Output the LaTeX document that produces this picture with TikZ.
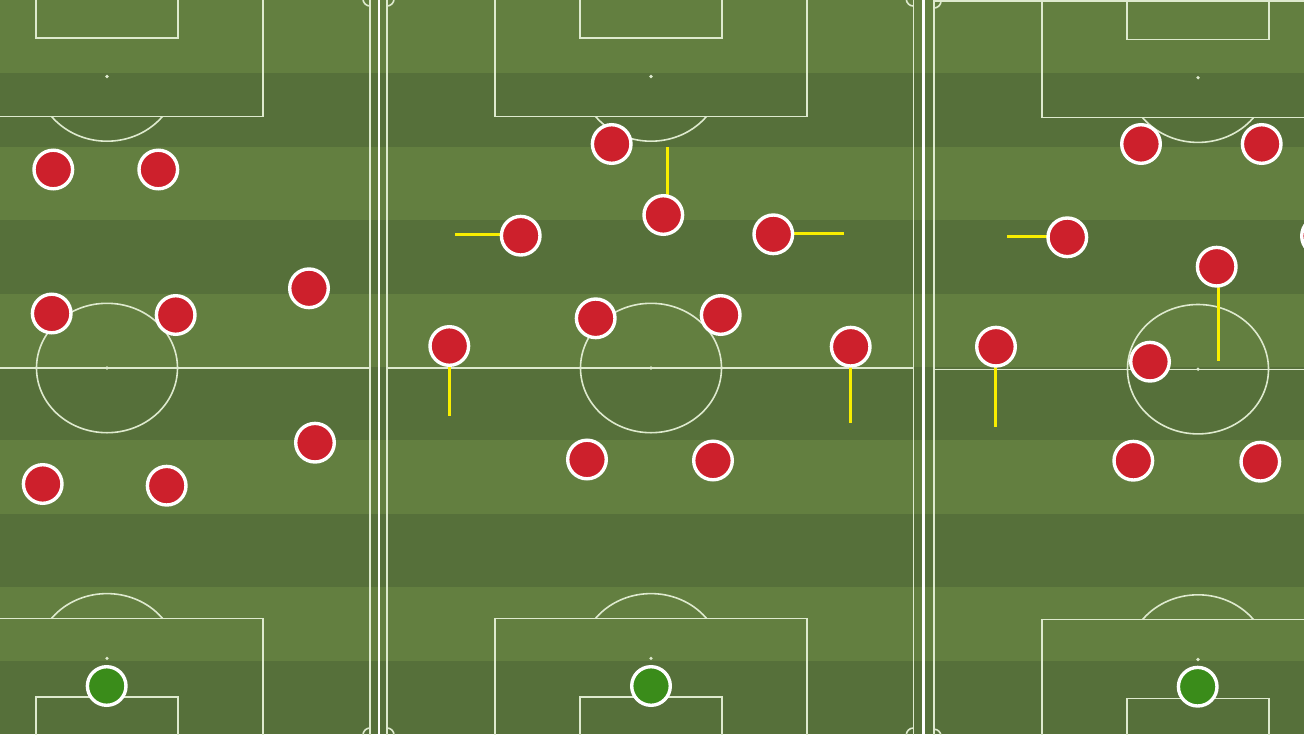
\documentclass[tikz,border=0pt]{standalone}
\usetikzlibrary{shadows}
\definecolor{lightg}{RGB}{99,127,64}
\definecolor{darkg}{RGB}{86,112,58}
\definecolor{pred}{RGB}{205,32,44}
\definecolor{pgk}{RGB}{58,140,26}
\definecolor{runy}{RGB}{248,238,0}
\definecolor{chalk}{RGB}{222,234,206}
\pgfdeclarelayer{pitchlayer}
\pgfdeclarelayer{runlayer}
\pgfsetlayers{pitchlayer,runlayer,main}
\tikzset{
  chalk line/.style={draw=chalk, line width=1.3pt},
  chalk curve/.style={draw=chalk, line width=1.6pt},
  sepline/.style={draw=white, line width=2.4pt},
  run/.style={draw=runy, line width=3pt},
  player/.style={circle, draw=white, line width=3.4pt, fill=pred, minimum size=38.6pt, inner sep=0pt,
    drop shadow={shadow xshift=0pt, shadow yshift=-1.4pt, opacity=0.3, fill=black}},
  keeper/.style={player, fill=pgk}
}
\newcommand{\pitchmarks}[2]{%
  \draw[chalk line] (#1-156,-5) rectangle (#1+156,116.5+#2);
  \draw[chalk line] (#1-71,-5) rectangle (#1+71,38+#2);
  \fill[chalk] (#1,76.5+#2) circle[radius=1.8];
  \begin{scope}
    \clip (#1-120,117.2+#2) rectangle (#1+120,160+#2);
    \draw[chalk curve] (#1,76.5+#2) ellipse[x radius=70.5, y radius=64.7];
  \end{scope}
  \draw[chalk curve] (#1,368+#2) ellipse[x radius=70.5, y radius=64.7];
  \fill[chalk] (#1,368+#2) circle[radius=1.8];
  \draw[chalk line] (#1-156,745) rectangle (#1+156,618.3+#2);
  \draw[chalk line] (#1-71,745) rectangle (#1+71,697+#2);
  \fill[chalk] (#1,658.3+#2) circle[radius=1.8];
  \begin{scope}
    \clip (#1-120,617.6+#2) rectangle (#1+120,570+#2);
    \draw[chalk curve] (#1,658.3+#2) ellipse[x radius=70.5, y radius=64.7];
  \end{scope}
}
\newcommand{\cornerarc}[5]{% center x, center y, clip corners, radius
  \begin{scope}
    \clip #3 rectangle #4;
    \draw[chalk curve] (#1,#2) circle[radius=#5];
  \end{scope}
}
\begin{document}
\begin{tikzpicture}[x=1pt,y=-1pt]
\useasboundingbox (0,0) rectangle (1304,734);
\begin{pgfonlayer}{pitchlayer}
  \fill[darkg] (0,0) rectangle (1304,734);
  \foreach \k in {0,2,4,6,8}
    \fill[lightg] (0,{\k*73.4}) rectangle (1304,{(\k+1)*73.4});
  % touchlines and separators
  \draw[chalk line] (370,-5) -- (370,745);
  \draw[chalk line] (387,-5) -- (387,745);
  \draw[chalk line] (913.3,-5) -- (913.3,745);
  \draw[chalk line] (934,-5) -- (934,745);
  \draw[sepline] (379,-5) -- (379,745);
  \draw[sepline, line width=2.2pt] (923.5,-5) -- (923.5,745);
  % halfway lines and goal line
  \draw[chalk line] (-200,368) -- (370,368);
  \draw[chalk line] (387,368) -- (913.3,368);
  \draw[chalk line] (934,369.2) -- (1500,369.2);
  \draw[chalk line] (934,1) -- (1500,1);
  % markings
  \pitchmarks{107}{0}
  \pitchmarks{651}{0}
  \pitchmarks{1198}{1.2}
  % corner arcs
  \cornerarc{370}{-1}{(300,-1)}{(370,30)}{7}
  \cornerarc{387}{-1}{(387,-1)}{(450,30)}{7}
  \cornerarc{913.3}{-1}{(850,-1)}{(913.3,30)}{7}
  \cornerarc{934}{1}{(934,1)}{(1000,30)}{7}
  \cornerarc{370}{735}{(300,735)}{(370,700)}{7}
  \cornerarc{387}{735}{(387,735)}{(450,700)}{7}
  \cornerarc{913.3}{735}{(850,735)}{(913.3,700)}{7}
  \cornerarc{934}{736.2}{(934,736.2)}{(1000,700)}{7}
\end{pgfonlayer}
% pitch 1
\node[player] (a1) at (53.3,169.5) {};
\node[player] (a2) at (158.3,169.5) {};
\node[player] (a3) at (51.7,313.5) {};
\node[player] (a4) at (175.7,315) {};
\node[player] (a5) at (309,288.3) {};
\node[player] (a6) at (315,442.7) {};
\node[player] (a7) at (42.7,484) {};
\node[player] (a8) at (166.7,485.7) {};
\node[keeper] (ag) at (106.7,686) {};
% pitch 2
\node[player] (b1) at (611.7,144) {};
\node[player] (b2) at (663.3,215) {};
\node[player] (b3) at (520.7,235.7) {};
\node[player] (b4) at (773.3,234.3) {};
\node[player] (b5) at (449.3,346) {};
\node[player] (b6) at (595.7,318.3) {};
\node[player] (b7) at (720.7,315) {};
\node[player] (b8) at (850.7,346.7) {};
\node[player] (b9) at (587,459.5) {};
\node[player] (b10) at (713,460.5) {};
\node[keeper] (bg) at (651,686) {};
% pitch 3
\node[player] (c1) at (1141,144) {};
\node[player] (c2) at (1261.7,144) {};
\node[player] (c3) at (1067.3,237.3) {};
\node[player] (c4) at (1216.7,266.7) {};
\node[player] (c5) at (1321,236) {};
\node[player] (c6) at (996,346.7) {};
\node[player] (c7) at (1150,361.7) {};
\node[player] (c8) at (1133.3,460.7) {};
\node[player] (c9) at (1260.3,461.7) {};
\node[keeper] (cg) at (1197.7,686.7) {};
% movement lines
\coordinate (e1) at (667,147);
\coordinate (e2) at (455,234);
\coordinate (e3) at (844,233);
\coordinate (e4) at (449.3,416);
\coordinate (e5) at (850.7,422.7);
\coordinate (e6) at (1006.7,236.7);
\coordinate (e7) at (1218.3,360.7);
\coordinate (e8) at (995,426.7);
\begin{pgfonlayer}{runlayer}
  \draw[run] (e1 |- b2.center) -- (e1);
  \draw[run] (b3.center |- e2) -- (e2);
  \draw[run] (b4.center |- e3) -- (e3);
  \draw[run] (e4 |- b5.center) -- (e4);
  \draw[run] (e5 |- b8.center) -- (e5);
  \draw[run] (c3.center |- e6) -- (e6);
  \draw[run] (e7 |- c4.center) -- (e7);
  \draw[run] (e8 |- c6.center) -- (e8);
\end{pgfonlayer}
\end{tikzpicture}
\end{document}
